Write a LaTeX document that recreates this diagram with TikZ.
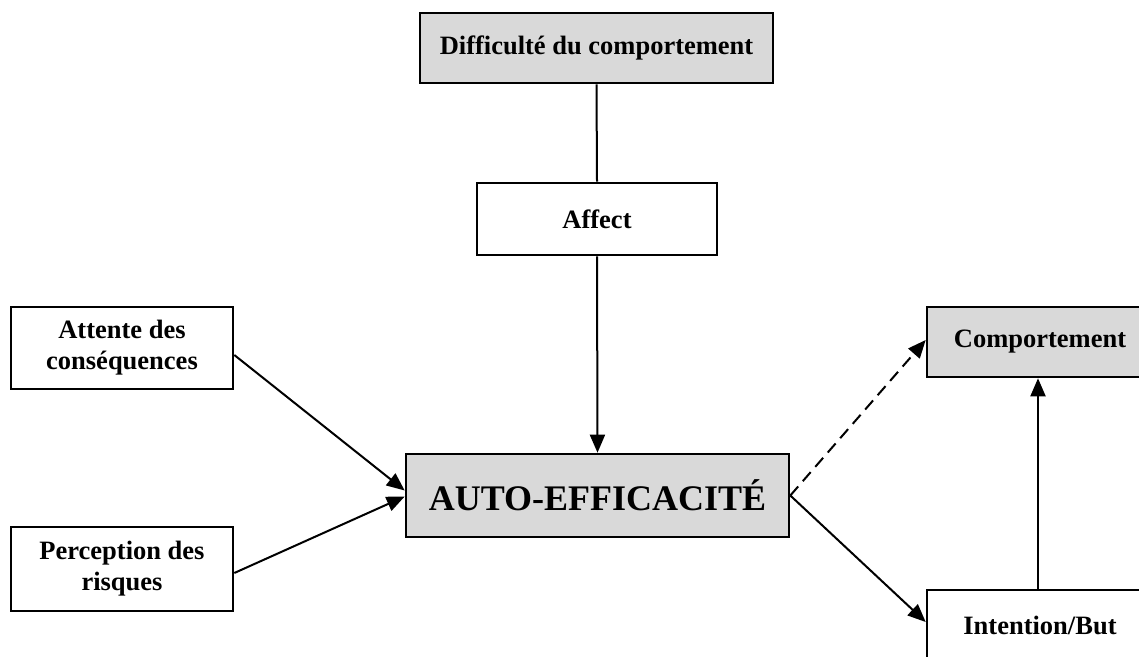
\documentclass[tikz,border=0pt]{standalone}
\usepackage{fontspec}
\setmainfont{Liberation Serif}
\usetikzlibrary{arrows.meta,calc}
\definecolor{boxgray}{HTML}{D9D9D9}
\begin{document}
\begin{tikzpicture}[x=1pt,y=-1pt,
  box/.style={draw,line width=2.6pt,inner sep=0pt,align=center,
    font=\bfseries\fontsize{26.5}{31}\selectfont},
  grey/.style={fill=boxgray},
  conn/.style={line width=2pt},
  arr/.style={conn,-{Triangle[length=18pt,width=15pt]}}
]
\useasboundingbox (0,0) rectangle (1139,656);
\clip (0,0) rectangle (1139,656);
\fill[white] (0,0) rectangle (1139,656);

\node[box,grey,minimum width=353pt,minimum height=70pt] (diff) at (596.5,48) {Difficulté du comportement};
\node[box,minimum width=240pt,minimum height=72pt] (affect) at (597,219) {Affect};
\node[box,minimum width=222pt,minimum height=82pt] (attente) at (122,348) {Attente des\\conséquences};
\node[box,minimum width=222pt,minimum height=84pt] (percep) at (122,569) {Perception des\\risques};
\node[box,grey,minimum width=383pt,minimum height=83pt,font=\bfseries\fontsize{36}{40}\selectfont] (auto) at (597.5,495.5) {AUTO-EFFICACITÉ};
\node[box,grey,minimum width=226pt,minimum height=70pt] (comp) at (1040,342) {Comportement};
\node[box,minimum width=226pt,minimum height=84pt] (intent) at (1040,632) {};
\node[font=\bfseries\fontsize{26.5}{31}\selectfont,anchor=base] (intentlabel) at (1040,634) {Intention/But};

\draw[conn] (diff.south) -- (affect.north);
\draw[arr] (affect.south) -- (auto.north);
\draw[arr] ([yshift=-7pt]attente.east) -- ([yshift=5pt]auto.west);
\draw[arr] ([yshift=-4pt]percep.east) -- ([yshift=-1pt]auto.west);
\draw[conn,dash pattern=on 12pt off 7pt,-{Triangle[length=18pt,width=15pt]}] (auto.east) -- ([yshift=2pt]comp.west);
\draw[arr] (auto.east) -- ([yshift=10pt]intent.west);
\draw[arr] ([xshift=-2pt]intent.north) -- ([xshift=-2pt]comp.south);
\end{tikzpicture}
\end{document}
